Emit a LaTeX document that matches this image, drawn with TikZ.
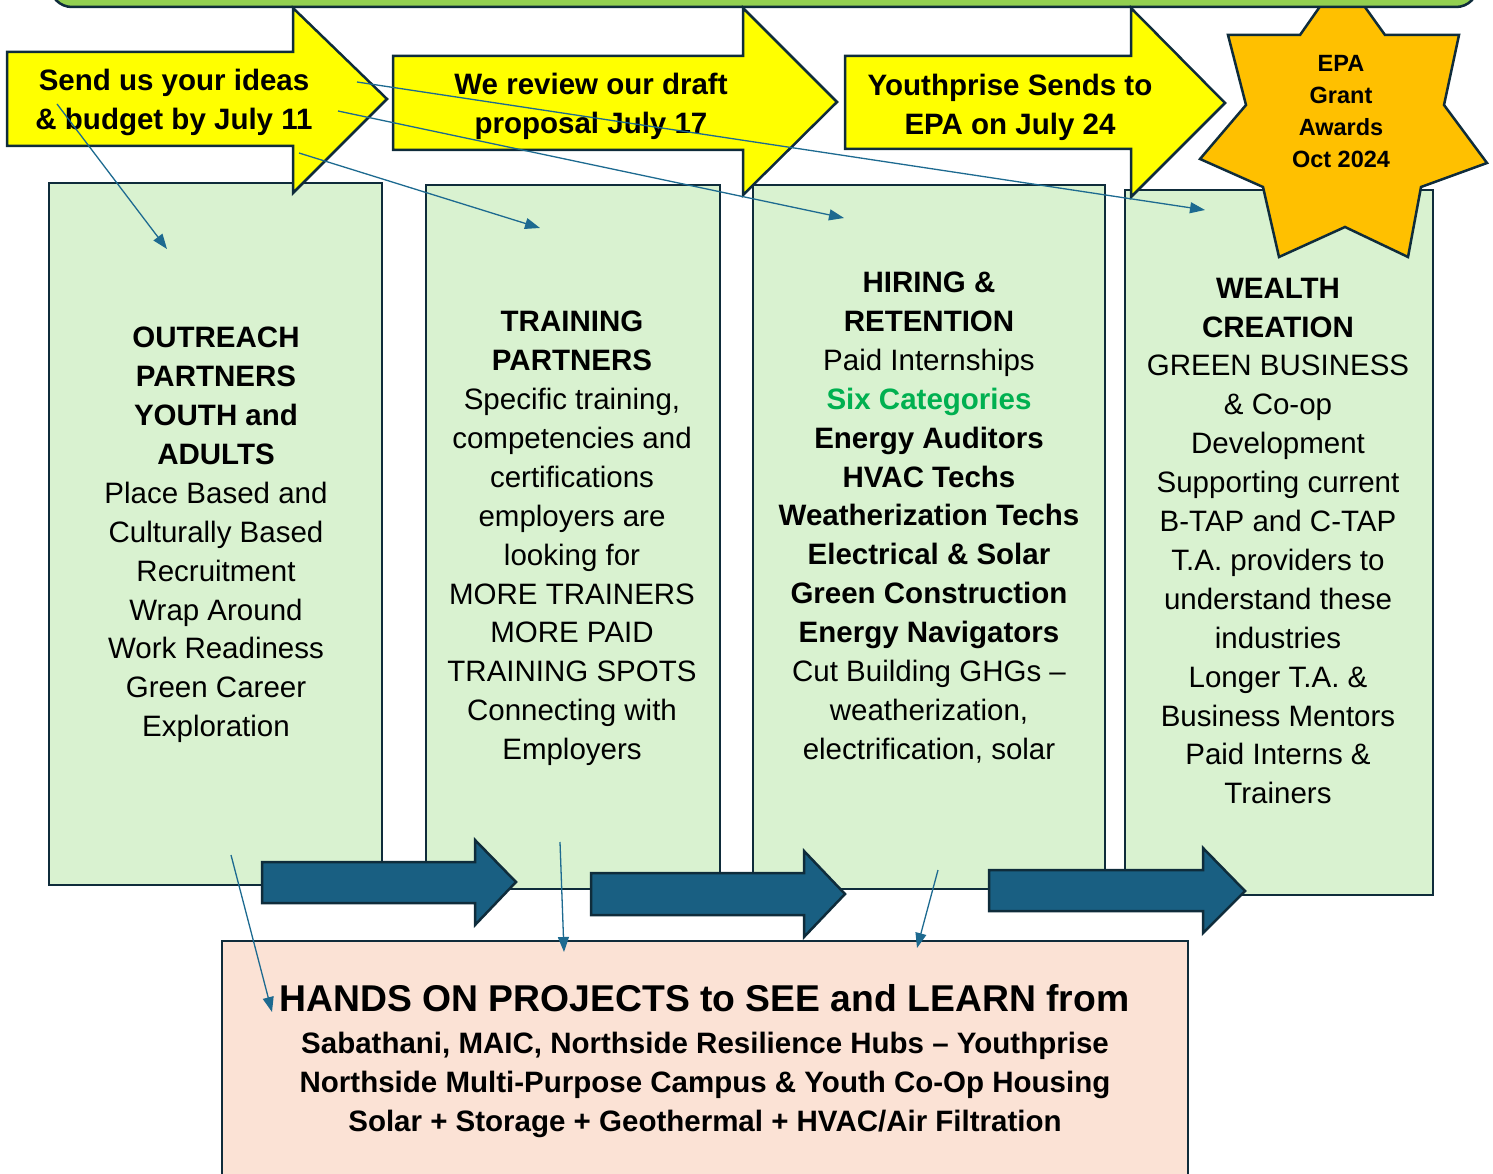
\documentclass[tikz,border=0pt]{standalone}
\usepackage{fontspec}
\setmainfont{Liberation Sans}
\usetikzlibrary{arrows.meta}
\definecolor{barGreen}{HTML}{92D050}
\definecolor{colGreen}{HTML}{D9F2D0}
\definecolor{stepYellow}{HTML}{FFFF00}
\definecolor{starGold}{HTML}{FFC000}
\definecolor{flowBlue}{HTML}{195F82}
\definecolor{edgeDark}{HTML}{0F2C3B}
\definecolor{linkBlue}{HTML}{1D6A90}
\definecolor{projPink}{HTML}{FBE2D5}
\definecolor{catGreen}{HTML}{00B050}
\begin{document}
\begin{tikzpicture}[x=1pt,y=-1pt,
  colbox/.style={draw=edgeDark,line width=2.5pt,fill=colGreen,inner sep=0pt},
  projbox/.style={draw=edgeDark,line width=2.2pt,fill=projPink,inner sep=0pt},
  steparrow/.style={draw=edgeDark,line width=2.5pt,fill=stepYellow,line join=miter},
  flowarrow/.style={draw=edgeDark,line width=2.5pt,fill=flowBlue,line join=miter},
  coltext/.style={align=center,inner sep=0pt,font=\fontsize{29.5}{38.9}\selectfont},
  steptext/.style={align=center,inner sep=0pt,font=\fontsize{29.5}{38.9}\selectfont\bfseries},
  link/.style={draw=linkBlue,line width=1.3pt,-{Triangle[length=15pt,width=11pt]}}]
\useasboundingbox (0,0) rectangle (1493,1174);
\clip (0,0) rectangle (1493,1174);

% four columns
\node[colbox,minimum width=333pt,minimum height=702pt] (outreach) at (215.5,534) {};
\node[colbox,minimum width=294pt,minimum height=704pt] (training) at (573,537) {};
\node[colbox,minimum width=352pt,minimum height=704pt] (hiring) at (929,537) {};
\node[colbox,minimum width=308pt,minimum height=705pt] (wealth) at (1279,542.5) {};

% award star, partly under the banner
\draw[draw=edgeDark,line width=2.5pt,fill=starGold,line join=miter]
  (1342,-25) -- (1385,35) -- (1459,35) -- (1444,105) -- (1487,163) -- (1421,187)
  -- (1408,257) -- (1345,227) -- (1279,257) -- (1263,187) -- (1200,159)
  -- (1246,105) -- (1228,35) -- (1300,35) -- cycle;
\node[align=center,inner sep=0pt,font=\fontsize{23.5}{32}\selectfont\bfseries] (award) at (1341,112)
  {EPA\\Grant\\Awards\\Oct 2024};

% banner along the top
\draw[draw=edgeDark,line width=2.5pt,fill=barGreen,rounded corners=22pt] (50,-60) rectangle (1478,7);

% timeline arrows
\draw[steparrow] (7,52) -- (293,52) -- (293,8) -- (387,99) -- (293,193) -- (293,146) -- (7,146) -- cycle;
\draw[steparrow] (393,56) -- (743,56) -- (743,8) -- (837,102) -- (743,195) -- (743,150) -- (393,150) -- cycle;
\draw[steparrow] (845,56) -- (1131,56) -- (1131,8) -- (1225,103) -- (1131,197) -- (1131,149) -- (845,149) -- cycle;
\node[steptext] (ideas) at (174,102.5) {Send us your ideas\\\& budget by July 11};
\node[steptext] (review) at (591,106.5) {We review our draft\\proposal July 17};
\node[steptext] (sends) at (1010,107.5) {Youthprise Sends to\\EPA on July 24};

% column texts
\node[coltext] (outreachText) at (216,535)
  {\textbf{OUTREACH}\\\textbf{PARTNERS}\\\textbf{YOUTH and}\\\textbf{ADULTS}\\Place Based and\\Culturally Based\\Recruitment\\Wrap Around\\Work Readiness\\Green Career\\Exploration};
\node[coltext] (trainingText) at (572,538.5)
  {\textbf{TRAINING}\\\textbf{PARTNERS}\\Specific training,\\competencies and\\certifications\\employers are\\looking for\\MORE TRAINERS\\MORE PAID\\TRAINING SPOTS\\Connecting with\\Employers};
\node[coltext] (hiringText) at (929,517.5)
  {\textbf{HIRING \&}\\\textbf{RETENTION}\\Paid Internships\\\textcolor{catGreen}{\textbf{Six Categories}}\\\textbf{Energy Auditors}\\\textbf{HVAC Techs}\\\textbf{Weatherization Techs}\\\textbf{Electrical \& Solar}\\\textbf{Green Construction}\\\textbf{Energy Navigators}\\Cut Building GHGs –\\weatherization,\\electrification, solar};
\node[coltext] (wealthText) at (1278,541)
  {\textbf{WEALTH}\\\textbf{CREATION}\\GREEN BUSINESS\\\& Co-op\\Development\\Supporting current\\B-TAP and C-TAP\\T.A. providers to\\understand these\\industries\\Longer T.A. \&\\Business Mentors\\Paid Interns \&\\Trainers};

% flow arrows between columns
\draw[flowarrow] (262,862) -- (475,862) -- (475,840) -- (516,882) -- (475,925) -- (475,903) -- (262,903) -- cycle;
\draw[flowarrow] (591,873) -- (804,873) -- (804,851) -- (845,894) -- (804,937) -- (804,915) -- (591,915) -- cycle;
\draw[flowarrow] (989,870) -- (1203,870) -- (1203,848) -- (1245,891) -- (1203,933) -- (1203,911) -- (989,911) -- cycle;

% projects box
\node[projbox,minimum width=966pt,minimum height=258pt] (projects) at (705,1070) {};
\node[inner sep=0pt,font=\fontsize{37.3}{45}\selectfont\bfseries] (projTitle) at (704.5,998)
  {HANDS ON PROJECTS to SEE and LEARN from};
\node[steptext] (projSites) at (705,1085)
  {Sabathani, MAIC, Northside Resilience Hubs – Youthprise\\Northside Multi-Purpose Campus \& Youth Co-Op Housing\\Solar + Storage + Geothermal + HVAC/Air Filtration};

% thin links
\coordinate (l1s) at (57,104);   \coordinate (l1e) at (167,249);
\coordinate (l2s) at (357,82);   \coordinate (l2e) at (1205,210);
\coordinate (l3s) at (338,111);  \coordinate (l3e) at (844,218);
\coordinate (l4s) at (299,153);  \coordinate (l4e) at (540,228);
\coordinate (l5s) at (231,855);  \coordinate (l5e) at (272,1012);
\coordinate (l6s) at (560,842);  \coordinate (l6e) at (564,952);
\coordinate (l7s) at (938,870);  \coordinate (l7e) at (917,948);
\draw[link] (l1s) -- (l1e);
\draw[link] (l2s) -- (l2e);
\draw[link] (l3s) -- (l3e);
\draw[link] (l4s) -- (l4e);
\draw[link] (l5s) -- (l5e);
\draw[link] (l6s) -- (l6e);
\draw[link] (l7s) -- (l7e);
\end{tikzpicture}
\end{document}
